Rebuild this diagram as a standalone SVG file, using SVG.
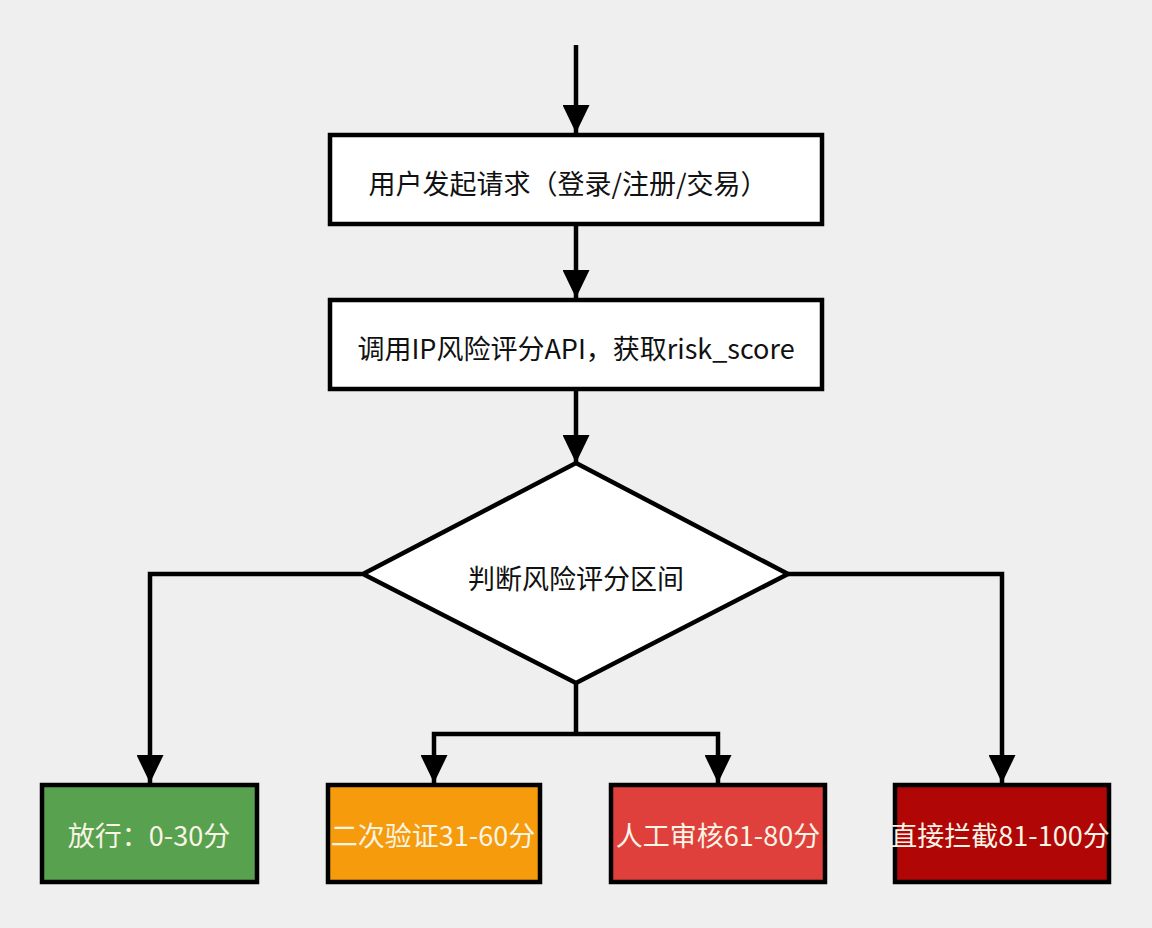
<svg xmlns="http://www.w3.org/2000/svg" width="1152" height="928" viewBox="0 0 1152 928">
<defs>
<marker id="arrow" viewBox="0 0 28 27" refX="28" refY="13.5" markerWidth="28" markerHeight="27" markerUnits="userSpaceOnUse" orient="auto">
<path d="M0,0 L28,13.5 L0,27 z" fill="#000"/>
</marker>
</defs>
<style>
.box{stroke:#000;stroke-width:4.5}
.lbl{font-family:"Noto Sans CJK SC","Noto Sans",sans-serif;font-size:27px;text-anchor:middle;dominant-baseline:central}
.dark{fill:#111}
.light{fill:#f8f4e6}
.conn{fill:none;stroke:#000;stroke-width:4.5}
</style>
<rect width="1152" height="928" fill="#efefef"/>
<g id="connectors">
<path class="conn" d="M576,45 V133" marker-end="url(#arrow)"/>
<path class="conn" d="M576,225 V298" marker-end="url(#arrow)"/>
<path class="conn" d="M576,390 V463" marker-end="url(#arrow)"/>
<path class="conn" d="M362,574 H150 V783" marker-end="url(#arrow)"/>
<path class="conn" d="M788,574 H1002 V783" marker-end="url(#arrow)"/>
<path class="conn" d="M576,683 V734"/>
<path class="conn" d="M576,734 H434 V783" marker-end="url(#arrow)"/>
<path class="conn" d="M576,734 H718 V783" marker-end="url(#arrow)"/>
</g>
<g id="n1">
<rect class="box" x="330" y="135" width="492" height="89" fill="#fff"/>
<text class="lbl dark" x="568" y="182">用户发起请求（登录/注册/交易）</text>
</g>
<g id="n2">
<rect class="box" x="330" y="300" width="492" height="89" fill="#fff"/>
<text class="lbl dark" x="576" y="347">调用IP风险评分API，获取risk_score</text>
</g>
<g id="n3">
<polygon class="box" points="576,463 788,574 576,683 363,574" fill="#fff"/>
<text class="lbl dark" x="576" y="577">判断风险评分区间</text>
</g>
<g id="n4">
<rect class="box" x="42" y="785" width="215" height="97" fill="#58a14e"/>
<text class="lbl light" x="149" y="834">放行：0-30分</text>
</g>
<g id="n5">
<rect class="box" x="328" y="785" width="212" height="97" fill="#f59b0c"/>
<text class="lbl light" x="433" y="834">二次验证31-60分</text>
</g>
<g id="n6">
<rect class="box" x="611" y="785" width="214" height="97" fill="#e0403b"/>
<text class="lbl light" x="718" y="834">人工审核61-80分</text>
</g>
<g id="n7">
<rect class="box" x="895" y="785" width="214" height="97" fill="#b00606"/>
<text class="lbl light" x="1000" y="834">直接拦截81-100分</text>
</g>
</svg>
